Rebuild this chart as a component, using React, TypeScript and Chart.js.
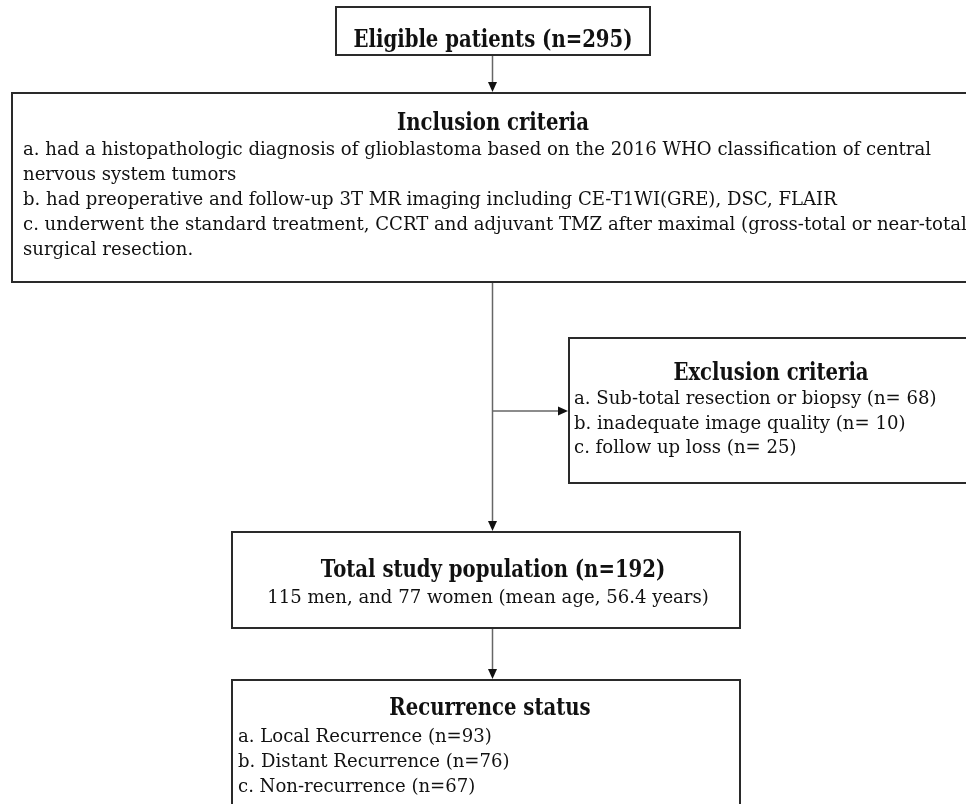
import { useEffect, useRef } from "react";
import { Chart, registerables } from "chart.js";

Chart.register(...registerables);

// ---- data ----
const eligibleLabel = "Eligible patients";
const eligibleCount = 295;

const inclusionTitle = "Inclusion criteria";
const inclusionLines = [
  "a. had a histopathologic diagnosis of glioblastoma based on the 2016 WHO classification of central",
  "nervous system tumors",
  "b. had preoperative and follow-up 3T MR imaging including CE-T1WI(GRE), DSC, FLAIR",
  "c. underwent the standard treatment, CCRT and adjuvant TMZ after maximal (gross-total or near-total)",
  "surgical resection.",
];

const exclusionTitle = "Exclusion criteria";
const exclusionLetters = ["a.", "b.", "c."];
const exclusionReasons = ["Sub-total resection or biopsy", "inadequate image quality", "follow up loss"];
const exclusionCounts = [68, 10, 25];

const totalLabel = "Total study population";
const totalCount = 192;
const menCount = 115;
const womenCount = 77;
const meanAge = 56.4;

const recurrenceTitle = "Recurrence status";
const recurrenceLetters = ["a.", "b.", "c."];
const recurrenceLabels = ["Local Recurrence", "Distant Recurrence", "Non-recurrence"];
const recurrenceCounts = [93, 76, 67];

// ---- layout (scale units) ----
const W = 966;
const H = 804;
const boxes = {
  eligible: [336, 650, 7, 55],
  inclusion: [12, 990, 93, 282],
  exclusion: [569, 990, 338, 483],
  total: [232, 740, 532, 628],
  recurrence: [232, 740, 680, 840],
};
const spineX = 492.5;

const REG = "19px 'DejaVu Serif'";
const BOLD = "bold 24px 'DejaVu Serif'";
const INK = "#111";

const flowPlugin = {
  id: "flow",
  afterDatasetsDraw(chart: any) {
    const ctx: CanvasRenderingContext2D = chart.ctx;
    const xs = chart.scales.x;
    const ys = chart.scales.y;
    const X = (v: number) => xs.getPixelForValue(v);
    const Y = (v: number) => ys.getPixelForValue(v);

    ctx.save();
    ctx.font = REG;
    const kReg = 908 / ctx.measureText(inclusionLines[0]).width;
    ctx.font = BOLD;
    const kBold = 279 / ctx.measureText(`${eligibleLabel} (n=${eligibleCount})`).width;
    ctx.restore();

    const text = (s: string, x: number, y: number, font: string, align: CanvasTextAlign, k: number) => {
      ctx.save();
      ctx.font = font;
      ctx.fillStyle = INK;
      ctx.textAlign = align;
      ctx.textBaseline = "alphabetic";
      ctx.translate(X(x), Y(y));
      ctx.scale(k, 1);
      ctx.fillText(s, 0, 0);
      ctx.restore();
    };

    const box = (b: number[]) => {
      ctx.save();
      ctx.strokeStyle = "#2a2a2a";
      ctx.lineWidth = 2;
      ctx.fillStyle = "#fff";
      const x0 = X(b[0]), x1 = X(b[1]), y0 = Y(b[2]), y1 = Y(b[3]);
      ctx.fillRect(x0, y0, x1 - x0, y1 - y0);
      ctx.strokeRect(x0, y0, x1 - x0, y1 - y0);
      ctx.restore();
    };

    const line = (x1: number, y1: number, x2: number, y2: number) => {
      ctx.save();
      ctx.strokeStyle = "#666";
      ctx.lineWidth = 1.5;
      ctx.beginPath();
      ctx.moveTo(X(x1), Y(y1));
      ctx.lineTo(X(x2), Y(y2));
      ctx.stroke();
      ctx.restore();
    };

    const arrow = (x1: number, y1: number, x2: number, y2: number) => {
      const px1 = X(x1), py1 = Y(y1), px2 = X(x2), py2 = Y(y2);
      const ang = Math.atan2(py2 - py1, px2 - px1);
      const hl = 10, hw = 4.5;
      const bx = px2 - Math.cos(ang) * hl;
      const by = py2 - Math.sin(ang) * hl;
      ctx.save();
      ctx.strokeStyle = "#666";
      ctx.lineWidth = 1.5;
      ctx.beginPath();
      ctx.moveTo(px1, py1);
      ctx.lineTo(bx, by);
      ctx.stroke();
      ctx.fillStyle = "#111";
      ctx.beginPath();
      ctx.moveTo(px2, py2);
      ctx.lineTo(bx + Math.sin(ang) * hw, by - Math.cos(ang) * hw);
      ctx.lineTo(bx - Math.sin(ang) * hw, by + Math.cos(ang) * hw);
      ctx.closePath();
      ctx.fill();
      ctx.restore();
    };

    // connectors
    arrow(spineX, boxes.eligible[3], spineX, boxes.inclusion[2] - 1);
    line(spineX, boxes.inclusion[3], spineX, 411);
    arrow(spineX, 411, boxes.exclusion[0] - 1, 411);
    arrow(spineX, 411, spineX, boxes.total[2] - 1);
    arrow(spineX, boxes.total[3], spineX, boxes.recurrence[2] - 1);

    // boxes
    box(boxes.eligible);
    box(boxes.inclusion);
    box(boxes.exclusion);
    box(boxes.total);
    box(boxes.recurrence);

    // eligible
    text(`${eligibleLabel} (n=${eligibleCount})`, 493, 47, BOLD, "center", kBold);

    // inclusion
    text(inclusionTitle, 493, 130, BOLD, "center", kBold);
    inclusionLines.forEach((s, i) => text(s, 23, 155 + i * 25, REG, "left", kReg));

    // exclusion
    text(exclusionTitle, 771, 380, BOLD, "center", kBold);
    exclusionReasons.forEach((r, i) =>
      text(`${exclusionLetters[i]} ${r} (n= ${exclusionCounts[i]})`, 574, 404 + i * 24.5, REG, "left", kReg)
    );

    // total
    text(`${totalLabel} (n=${totalCount})`, 493, 577, BOLD, "center", kBold);
    text(
      `${menCount} men, and ${womenCount} women (mean age, ${meanAge} years)`,
      488,
      603,
      REG,
      "center",
      kReg
    );

    // recurrence
    text(recurrenceTitle, 490, 715, BOLD, "center", kBold);
    recurrenceLabels.forEach((r, i) =>
      text(`${recurrenceLetters[i]} ${r} (n=${recurrenceCounts[i]})`, 238, 742 + i * 25, REG, "left", kReg)
    );
  },
};

export default function App() {
  const ref = useRef<HTMLCanvasElement | null>(null);

  useEffect(() => {
    if (!ref.current) return;
    const chart = new Chart(ref.current, {
      type: "scatter",
      data: { datasets: [{ data: [], pointRadius: 0 }] },
      options: {
        animation: false,
        responsive: false,
        maintainAspectRatio: false,
        layout: { padding: 0 },
        plugins: { legend: { display: false }, tooltip: { enabled: false } },
        scales: {
          x: { type: "linear", min: 0, max: W, display: false },
          y: { type: "linear", min: 0, max: H, reverse: true, display: false },
        },
      },
      plugins: [flowPlugin],
    });
    return () => chart.destroy();
  }, []);

  return (
    <div style={{ position: "absolute", left: 0, top: 0, width: W, height: H, background: "#fff" }}>
      <canvas ref={ref} width={W} height={H} style={{ display: "block", width: W, height: H }} />
    </div>
  );
}
